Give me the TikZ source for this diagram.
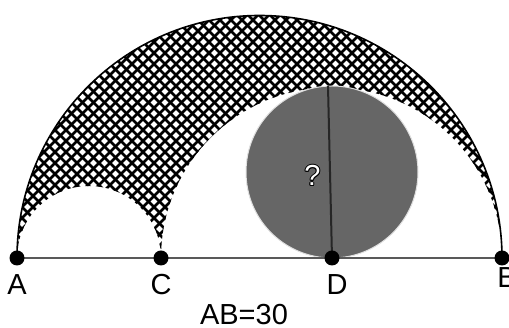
\documentclass[tikz,border=0pt]{standalone}
\usepackage{fontspec}
\setmainfont{Liberation Sans}
\begin{document}
\begin{tikzpicture}[x=1pt,y=1pt,
  dotnode/.style={circle,fill=black,inner sep=0pt,minimum size=15pt},
  lbl/.style={font=\fontsize{29}{29}\selectfont,anchor=base,inner sep=0pt},
  hatchline/.style={line width=2.5pt,black},
  baseline/.style={line width=2pt,black!65},
  bigarc/.style={line width=1.6pt,black}]
\useasboundingbox (0,0) rectangle (509,328);
\coordinate (A) at (17,70);
\coordinate (C) at (161,70);
\coordinate (D) at (332,70);
\coordinate (B) at (502,70);
\coordinate (T) at (328,242);
% hatched arbelos
\begin{scope}
\clip (A) arc[start angle=180,end angle=0,radius=242.5] -- (B)
  arc[start angle=0,end angle=180,radius=170.5]
  arc[start angle=0,end angle=180,radius=72] -- cycle;
\foreach \k in {-440,-429,...,540}{
  \draw[hatchline] (\k,0) -- ++(440,440);
  \draw[hatchline] (\k,440) -- ++(440,-440);
}
\end{scope}
\draw[bigarc] (A) arc[start angle=180,end angle=0,radius=242.5];
% gray circle
\node[circle,fill=black!60,draw=black!12,line width=1pt,minimum size=172pt,inner sep=0pt] (circ) at (332,156) {};
\draw[line width=2pt,black!85] (D) -- (T);
% base line
\draw[baseline] (A) -- (B);
\node[dotnode] (nA) at (A) {};
\node[dotnode] (nC) at (C) {};
\node[dotnode] (nD) at (D) {};
\node[dotnode] (nB) at (B) {};
% labels
\node[lbl] (lA) at (17,33) {A};
\node[lbl] (lC) at (161,33) {C};
\node[lbl] (lD) at (337,33) {D};
\node[lbl] (lB) at (507,40) {B};
\node[lbl] (lAB) at (244,3) {AB=30};
% question mark, white with dark outline
\foreach \dx/\dy in {1/0,-1/0,0/1,0/-1,0.7/0.7,-0.7/0.7,0.7/-0.7,-0.7/-0.7}{
  \node[lbl,text=black] at (312.5+\dx,142+\dy) {?};
}
\node[lbl,text=white] (q) at (312.5,142) {?};
\end{tikzpicture}
\end{document}
